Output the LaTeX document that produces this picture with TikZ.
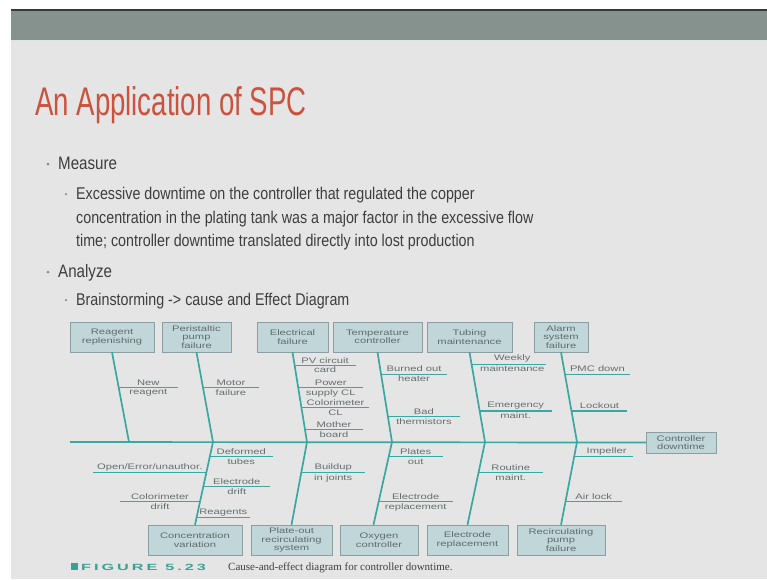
\documentclass[tikz,border=0pt]{standalone}
\usepackage{fontspec}
\setmainfont{Liberation Sans}
\newfontfamily\titlefont[FakeStretch=0.69]{Liberation Sans}
\newfontfamily\bodyfont[FakeStretch=0.84]{Liberation Sans}
\newfontfamily\widefont[FakeStretch=1.4]{Liberation Sans}
\newfontfamily\figfont[FakeStretch=1.8]{Liberation Sans}
\newfontfamily\capfont{Liberation Serif}
\usetikzlibrary{calc}
\definecolor{slidebg}{RGB}{230,229,230}
\definecolor{bandcol}{RGB}{134,146,141}
\definecolor{banddark}{RGB}{50,62,58}
\definecolor{bandlight}{RGB}{220,231,226}
\definecolor{titlecol}{RGB}{203,82,62}
\definecolor{bodytext}{RGB}{62,62,62}
\definecolor{bulcol}{RGB}{140,140,140}
\definecolor{boxfill}{RGB}{192,214,216}
\definecolor{boxline}{RGB}{140,158,160}
\definecolor{boxtext}{RGB}{95,108,110}
\definecolor{bonecol}{RGB}{58,168,160}
\definecolor{lbltext}{RGB}{100,110,110}
\definecolor{figcol}{RGB}{60,160,150}
\begin{document}
\begin{tikzpicture}[x=1pt, y=-1pt,
  cause/.style = {draw=boxline, fill=boxfill, text=boxtext, align=center,
    font=\widefont\fontsize{8}{8.5}\selectfont, inner sep=0pt, minimum height=30pt},
  bone/.style = {draw=bonecol, line width=1.7pt},
  twig/.style = {draw=bonecol, line width=1.1pt},
  lbl/.style = {text=lbltext, font=\widefont\fontsize{8}{8.5}\selectfont, inner sep=1.5pt},
  bul/.style = {circle, fill=bulcol, inner sep=0pt, minimum size=3pt},
  line1/.style = {anchor=base west, inner sep=0pt, text=bodytext,
    font=\bodyfont\fontsize{18}{18}\selectfont},
  line2/.style = {line1, font=\bodyfont\fontsize{17}{17}\selectfont}]
  \fill[white] (0,0) rectangle (767,579);
  \fill[slidebg] (11,9) rectangle (767,579);
  \fill[bandcol] (11,9) rectangle (767,40);
  \fill[banddark] (11,9) rectangle (767,10.5);
  \fill[bandlight] (11,40) rectangle (767,42);

  \node[anchor=base west, inner sep=0pt, text=titlecol,
    font=\titlefont\fontsize{40}{40}\selectfont] (title) at (35,115) {An Application of SPC};

  \node[bul] (b1) at (48,164) {};
  \node[line1] (measure) at (58,169) {Measure};
  \node[bul, minimum size=2.5pt] (b2) at (66,194) {};
  \node[line2] (ex1) at (76,199) {Excessive downtime on the controller that regulated the copper};
  \node[line2] (ex2) at (76,223) {concentration in the plating tank was a major factor in the excessive flow};
  \node[line2] (ex3) at (76,246) {time; controller downtime translated directly into lost production};
  \node[bul] (b3) at (48,272) {};
  \node[line1] (analyze) at (58,277) {Analyze};
  \node[bul, minimum size=2.5pt] (b4) at (66,300) {};
  \node[line2] (brain) at (76,305) {Brainstorming -> cause and Effect Diagram};

  \node[cause, minimum width=84pt] (rr) at (112,337) {Reagent\\replenishing};
  \node[cause, minimum width=69pt] (pp) at (196.5,337) {Peristaltic\\pump\\failure};
  \node[cause, minimum width=71pt] (ef) at (292.5,337) {Electrical\\failure};
  \node[cause, minimum width=89pt] (tc) at (377.5,337) {Temperature\\controller};
  \node[cause, minimum width=85pt] (tm) at (469.5,337) {Tubing\\maintenance};
  \node[cause, minimum width=54pt] (as) at (561,337) {Alarm\\system\\failure};
  \node[cause, minimum width=94pt] (cv) at (195,540) {Concentration\\variation};
  \node[cause, minimum width=81pt] (ps) at (291.5,540) {Plate-out\\recirculating\\system};
  \node[cause, minimum width=78pt] (oc) at (379,540) {Oxygen\\controller};
  \node[cause, minimum width=81pt] (er) at (467.5,540) {Electrode\\replacement};
  \node[cause, minimum width=88pt] (rp) at (561,540) {Recirculating\\pump\\failure};
  \node[cause, minimum width=70pt, minimum height=21pt] (cd) at (681,442.5) {Controller\\downtime};

  \coordinate (tail) at (70,442);
  \coordinate (j1) at (129,442);
  \coordinate (j2) at (213,442);
  \coordinate (j3) at (307,442);
  \coordinate (j4) at (392,442);
  \coordinate (j5) at (485,442);
  \coordinate (j6) at (577,442);
  \draw[bone] (tail) -- (cd.west);
  \draw[bone] (rr.south) -- (j1);
  \draw[bone] (pp.south) -- (j2) -- (cv.north);
  \draw[bone] (ef.south) -- (j3) -- (ps.north);
  \draw[bone] (tc.south) -- (j4) -- (oc.110);
  \draw[bone] (tm.south) -- (j5) -- (er.north);
  \draw[bone] (as.south) -- (j6) -- (rp.north);

  \draw[twig] ($(rr.south)!0.39!(j1)$) -- ++(59.4,0)
    node[lbl, midway, above] (n1) {New} node[lbl, midway, below] (n2) {reagent};
  \draw[twig] ($(pp.south)!0.39!(j2)$) -- ++(56,0)
    node[lbl, midway, above] (n3) {Motor} node[lbl, midway, below] (n4) {failure};
  \draw[twig] ($(ef.south)!0.144!(j3)$) -- ++(61,0)
    node[lbl, midway, above] (n5) {PV circuit} node[lbl, midway, below] (n6) {card};
  \draw[twig] ($(ef.south)!0.39!(j3)$) -- ++(65,0)
    node[lbl, midway, above] (n7) {Power} node[lbl, midway, below] (n8) {supply CL};
  \draw[twig] ($(ef.south)!0.62!(j3)$) -- ++(68,0)
    node[lbl, midway, above] (n9) {Colorimeter} node[lbl, midway, below] (n10) {CL};
  \draw[twig] ($(ef.south)!0.86!(j3)$) -- ++(58,0)
    node[lbl, midway, above] (n11) {Mother} node[lbl, midway, below] (n12) {board};
  \draw[twig] ($(tc.south)!0.244!(j4)$) -- ++(66,0)
    node[lbl, midway, above] (n13) {Burned out} node[lbl, midway, below] (n14) {heater};
  \draw[twig] ($(tc.south)!0.72!(j4)$) -- ++(72,0)
    node[lbl, midway, above] (n15) {Bad} node[lbl, midway, below] (n16) {thermistors};
  \draw[twig] ($(tm.south)!0.133!(j5)$) -- ++(74,0)
    node[lbl, pos=0.55, above] (n17) {Weekly} node[lbl, pos=0.55, below] (n18) {maintenance};
  \draw[twig] ($(tm.south)!0.655!(j5)$) -- ++(72,0)
    node[lbl, midway, above] (n19) {Emergency} node[lbl, midway, below] (n20) {maint.};
  \draw[twig] ($(as.south)!0.244!(j6)$) -- ++(65,0)
    node[lbl, midway, above] (n21) {PMC down};
  \draw[twig] ($(as.south)!0.655!(j6)$) -- ++(56,0)
    node[lbl, midway, above] (n22) {Lockout};

  \draw[twig] ($(j2)!0.18!(cv.north)$) -- ++(63,0)
    node[lbl, midway, above] (n23) {Deformed} node[lbl, midway, below] (n24) {tubes};
  \draw[twig] ($(j2)!0.373!(cv.north)$) -- ++(-113,0)
    node[lbl, midway, above] (n25) {Open/Error/unauthor.};
  \draw[twig] ($(j2)!0.54!(cv.north)$) -- ++(67,0)
    node[lbl, midway, above] (n26) {Electrode} node[lbl, midway, below] (n27) {drift};
  \draw[twig] ($(j2)!0.72!(cv.north)$) -- ++(-80,0)
    node[lbl, midway, above] (n28) {Colorimeter} node[lbl, midway, below] (n29) {drift};
  \draw[twig] ($(j2)!0.916!(cv.north)$) -- ++(53.5,0)
    node[lbl, midway, above] (n30) {Reagents};
  \draw[twig] ($(j3)!0.373!(ps.north)$) -- ++(64,0)
    node[lbl, midway, above] (n31) {Buildup} node[lbl, midway, below] (n32) {in joints};
  \draw[twig] ($(j4)!0.18!(oc.110)$) -- ++(54,0)
    node[lbl, midway, above] (n33) {Plates} node[lbl, midway, below] (n34) {out};
  \draw[twig] ($(j4)!0.72!(oc.110)$) -- ++(74,0)
    node[lbl, midway, above] (n35) {Electrode} node[lbl, midway, below] (n36) {replacement};
  \draw[twig] ($(j5)!0.373!(er.north)$) -- ++(64.5,0)
    node[lbl, midway, above] (n37) {Routine} node[lbl, midway, below] (n38) {maint.};
  \draw[twig] ($(j6)!0.18!(rp.north)$) -- ++(59,0)
    node[lbl, pos=0.55, above] (n39) {Impeller};
  \draw[twig] ($(j6)!0.72!(rp.north)$) -- ++(56.5,0)
    node[lbl, midway, above] (n40) {Air lock};

  \node[fill=figcol, inner sep=0pt, minimum size=7pt] (sq) at (74,566) {};
  \node[anchor=base west, inner sep=0pt, text=figcol,
    font=\figfont\bfseries\fontsize{9}{9}\selectfont] (fig) at (81,570)
    {F\kern3ptI\kern3ptG\kern3ptU\kern3ptR\kern3ptE\kern8pt5\kern3pt.\kern3pt2\kern3pt3};
  \node[anchor=base west, inner sep=0pt, text=bodytext,
    font=\capfont\fontsize{11}{11}\selectfont] (cap) at (228,570) {Cause-and-effect diagram for controller downtime.};
\end{tikzpicture}
\end{document}
